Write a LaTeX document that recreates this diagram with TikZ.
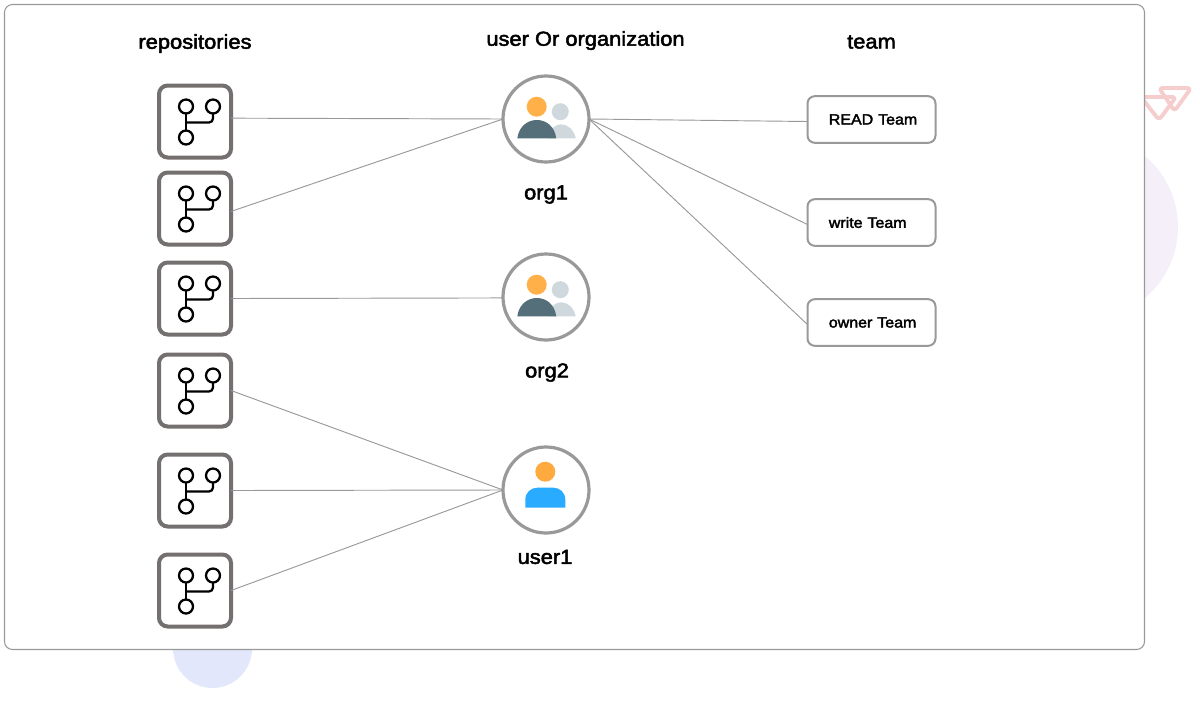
\documentclass[tikz,border=0pt]{standalone}
\usepackage{fontspec}
\setmainfont{Liberation Sans}[FakeBold=2.4,FakeStretch=1.08]
\usetikzlibrary{calc}
\definecolor{framegrey}{HTML}{999999}
\definecolor{repogrey}{HTML}{757070}
\definecolor{orangeic}{HTML}{FFB048}
\definecolor{orangeuser}{HTML}{FFAA3F}
\definecolor{darkic}{HTML}{546E7A}
\definecolor{lightic}{HTML}{CFD8DC}
\definecolor{blueic}{HTML}{29ABFF}
\definecolor{blobblue}{HTML}{E2E7FB}
\definecolor{blobpurple}{HTML}{F5EFF9}
\definecolor{pinktri}{HTML}{F6CDCD}
\tikzset{
  x=0.75pt,y=-0.75pt,
  repobox/.style={draw=repogrey,line width=3pt,rounded corners=6.5pt,fill=white,minimum width=54pt,minimum height=54pt,inner sep=0pt,outer sep=0pt},
  avatar/.style={circle,draw=framegrey,line width=2.4pt,fill=white,minimum size=64.5pt,inner sep=0pt,outer sep=0pt},
  teambox/.style={draw=framegrey,line width=1.5pt,rounded corners=5.5pt,fill=white,minimum height=35pt,text width=80pt,align=left,inner xsep=8pt,inner ysep=0pt,outer sep=0pt,font=\fontsize{11.1}{13}\selectfont},
  heading/.style={inner sep=0pt,font=\fontsize{15.2}{18}\selectfont},
  link/.style={draw=framegrey,line width=0.7pt},
  repoicon/.pic={
    \draw[black,line width=1.7pt] (-9,-15) circle[radius=7] (18,-15) circle[radius=7] (-9,16) circle[radius=7];
    \draw[black,line width=1.7pt] (-9,-8) -- (-9,9);
    \draw[black,line width=1.7pt,rounded corners=3pt] (-9,1) -- (18,1) -- (18,-8);
  },
  orgicon/.pic={
    \fill[orangeic] (-9.3,-12.3) circle[radius=10];
    \fill[lightic] (14.3,-7.3) circle[radius=8.5];
    \fill[lightic] (2,19.3) .. controls (4,9) and (10,5.3) .. (15,5.3) .. controls (22,5.3) and (28,11) .. (29.7,19.3) -- cycle;
    \fill[darkic] (-28.7,19.3) .. controls (-27,7) and (-18,1) .. (-9.2,1) .. controls (0,1) and (8.5,7) .. (10.3,19.3) -- cycle;
  },
  usericon/.pic={
    \fill[orangeuser] (-0.7,-18.3) circle[radius=10];
    \fill[blueic] (-20.7,17.7) -- (-20.7,9.7) .. controls (-20.7,2.5) and (-15,-2.3) .. (-8.7,-2.3) -- (7.3,-2.3) .. controls (14,-2.3) and (19.3,2.5) .. (19.3,9.7) -- (19.3,17.7) -- cycle;
  }
}
\newcommand{\teamtext}[1]{\hspace*{8pt}#1}
\begin{document}
\begin{tikzpicture}
\useasboundingbox (0,0) rectangle (1200,704);
% decorative backdrop
\fill[blobblue] (212.5,648.5) circle[radius=39.5];
\fill[blobpurple] (1085,227) circle[radius=93];
\begin{scope}[line width=2.9pt,pinktri,line join=round]
  \draw[rounded corners=2.5pt] (1141,97) -- (1176,97) -- (1159,120) -- cycle;
  \draw[rounded corners=2.5pt] (1159,88) -- (1191,88) -- (1174.5,111) -- cycle;
\end{scope}
% frame
\node[draw=framegrey,line width=0.8pt,fill=white,rounded corners=6pt,minimum width=855pt,minimum height=483.75pt,inner sep=0pt,outer sep=0pt] (frame) at (574.5,327) {};
% headings
\node[heading] (hrepo) at (195,43.5) {repositories};
\node[heading] (huser) at (585.5,40.5) {user Or organization};
\node[heading] (hteam) at (871.5,42) {team};
% repositories
\foreach \n/\y in {r1/121.5,r2/208.5,r3/298.5,r4/390.5,r5/490.5,r6/590.5}{
  \node[repobox] (\n) at (195,\y) {};
  \pic at (195,\y) {repoicon};
}
% owners
\node[avatar] (o1) at (546,119) {};
\pic at (546,119) {orgicon};
\node[avatar] (o2) at (546,297) {};
\pic at (546,297) {orgicon};
\node[avatar] (u1) at (546,490) {};
\pic at (546,490) {usericon};
\node[heading] (lo1) at (546,194.5) {org1};
\node[heading] (lo2) at (547,372.5) {org2};
\node[heading] (lu1) at (545,557) {user1};
% teams
\node[teambox] (t1) at (871.5,119.5) {\teamtext{READ Team}};
\node[teambox] (t2) at (871.5,222.5) {\teamtext{write Team}};
\node[teambox] (t3) at (871.5,322.5) {\teamtext{owner Team}};
% connectors
\draw[link] ([yshift=2.5pt]r1.east) -- (o1.west);
\draw[link] ([yshift=-2.2pt]r2.east) -- (o1.west);
\draw[link] (r3.east) -- ([yshift=-0.7pt]o2.west);
\draw[link] (r4.east) -- (u1.west);
\draw[link] (r5.east) -- (u1.west);
\draw[link] (r6.east) -- (u1.west);
\draw[link] (o1.east) -- ([yshift=-1.5pt]t1.west);
\draw[link] (o1.east) -- ([yshift=-1.5pt]t2.west);
\draw[link] (o1.east) -- ([yshift=-1.5pt]t3.west);
\end{tikzpicture}
\end{document}
